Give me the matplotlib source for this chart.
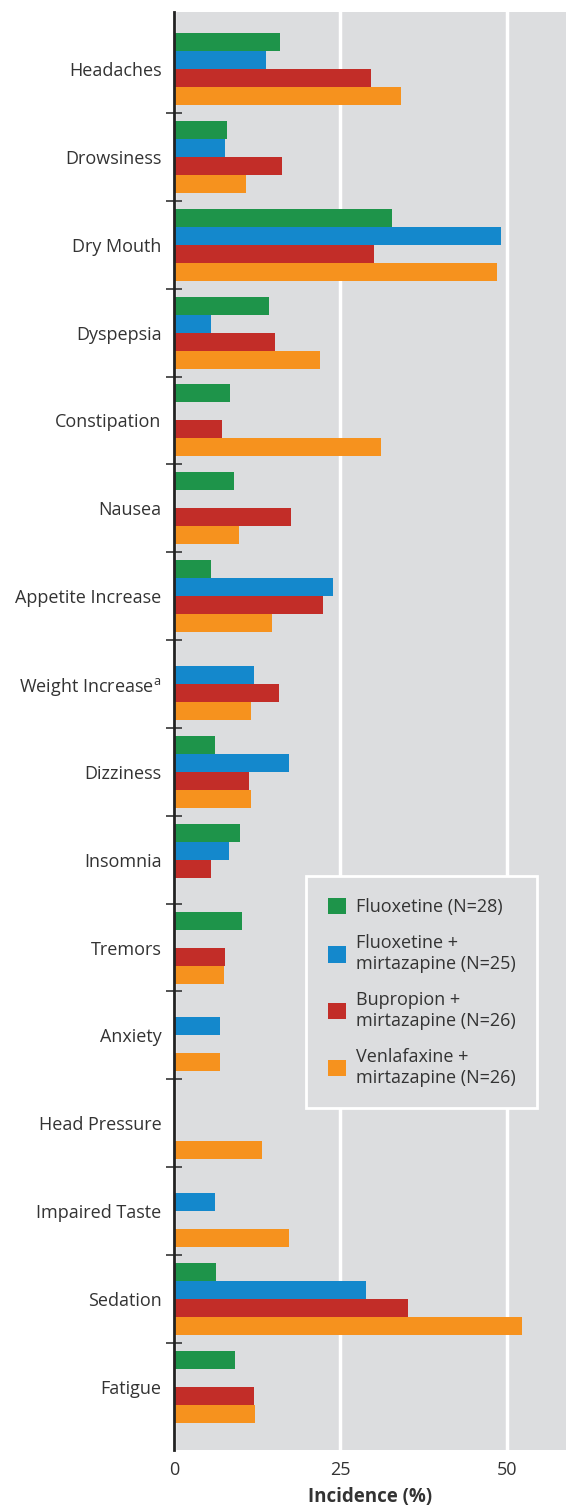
import matplotlib
matplotlib.use("Agg")
import matplotlib.pyplot as plt
import numpy as np

categories = ["Headaches", "Drowsiness", "Dry Mouth", "Dyspepsia", "Constipation",
              "Nausea", "Appetite Increase", "Weight Increase$^{\\mathregular{a}}$", "Dizziness",
              "Insomnia", "Tremors", "Anxiety", "Head Pressure", "Impaired Taste",
              "Sedation", "Fatigue"]
series_names = ["Fluoxetine (N=28)", "Fluoxetine +\nmirtazapine (N=25)",
                "Bupropion +\nmirtazapine (N=26)", "Venlafaxine +\nmirtazapine (N=26)"]
fluoxetine = [15.9, 8.0, 32.7, 14.3, 8.4, 9.0, 5.6, 0, 6.2, 9.9, 10.2, 0, 0, 0, 6.3, 9.2]
fluox_mirt = [13.8, 7.7, 49.2, 5.6, 0, 0, 23.9, 12.0, 17.3, 8.3, 0, 6.9, 0, 6.2, 28.8, 0]
bupr_mirt = [29.6, 16.2, 30.0, 15.2, 7.2, 17.6, 22.4, 15.8, 11.3, 5.6, 7.7, 0, 0, 0, 35.1, 12.0]
venl_mirt = [34.1, 10.8, 48.6, 21.9, 31.1, 9.8, 14.7, 11.6, 11.6, 0, 7.5, 6.9, 13.2, 17.3, 52.3, 12.2]
x_ticks = [0, 25, 50]

colors = ["#1e944a", "#1488cc", "#c22d28", "#f6921e"]
txt = "#333333"
fs = 13

plt.rcParams['font.family'] = ['Open Sans', 'DejaVu Sans']
plt.rcParams['mathtext.fontset'] = 'custom'
plt.rcParams['mathtext.rm'] = 'Open Sans'

fig = plt.figure(figsize=(5.66, 15.09), dpi=100)
ax = fig.add_axes([174/566, 1-1450/1509, 1-174/566, 1438/1509])
ax.set_facecolor("#dcdddf")

n = len(categories)
y = np.arange(n)
h = 0.205
data = [fluoxetine, fluox_mirt, bupr_mirt, venl_mirt]
for k, (vals, c, name) in enumerate(zip(data, colors, series_names)):
    ax.barh(y + (k - 1.5) * h, vals, height=h, color=c, label=name, zorder=3, linewidth=0)

ax.set_xlim(0, 58.9)
ax.set_ylim(n - 1 + 0.72, -0.65)
ax.set_xticks(x_ticks)
ax.set_xticklabels([str(t) for t in x_ticks])
ax.tick_params(axis='x', length=0, labelsize=fs, labelcolor=txt, pad=8)
ax.set_yticks(y)
ax.set_yticklabels(categories)
ax.tick_params(axis='y', which='major', length=0, labelsize=fs, labelcolor=txt, pad=9)
ax.set_yticks(np.arange(n - 1) + 0.5, minor=True)
ax.tick_params(axis='y', which='minor', direction='inout', length=12, width=1.3, color="#444444")
ax.grid(axis='x', color='white', linewidth=2.5, zorder=1)
ax.set_axisbelow(True)
for s in ['top', 'right', 'bottom']:
    ax.spines[s].set_visible(False)
ax.spines['left'].set_linewidth(2)
ax.spines['left'].set_color("#222222")
ax.spines['left'].set_zorder(4)

ax.set_xlabel("Incidence (%)", fontsize=13.5, fontweight='bold', color=txt, labelpad=6)

leg = ax.legend(loc='upper left', bbox_to_anchor=(0.337, 0.399), fontsize=fs,
                frameon=True, fancybox=False, facecolor="#dcdddf", edgecolor='white',
                handlelength=1.0, handleheight=1.0, handletextpad=0.55,
                labelspacing=1.0, borderpad=1.2, borderaxespad=0, framealpha=1)
leg.get_frame().set_linewidth(2)
for t in leg.get_texts():
    t.set_color(txt)
leg.set_zorder(5)

fig.savefig("out.png", dpi=100)
